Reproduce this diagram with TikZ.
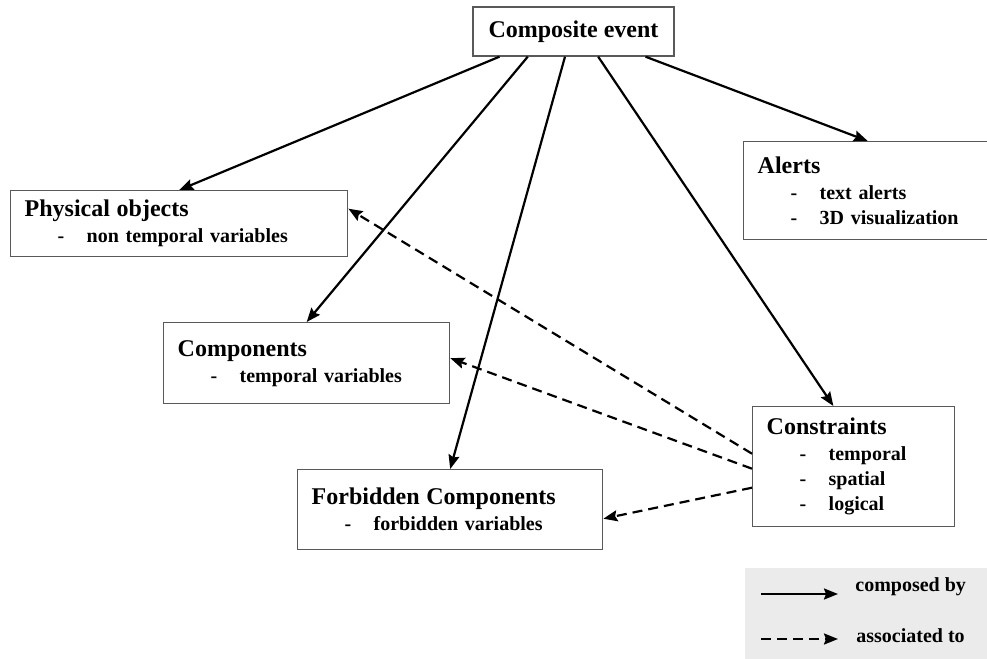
\documentclass[tikz,border=0pt]{standalone}
\usepackage{fontspec}
\setmainfont{Liberation Serif}
\usetikzlibrary{arrows.meta, positioning, calc}

\newcommand{\boxhead}[1]{{\fontsize{12pt}{13pt}\selectfont #1}\\[0.5pt]}
\newcommand{\entry}[1]{\makebox[31pt][l]{\hspace*{16.5pt}-}#1}

\begin{document}
\begin{tikzpicture}[
        x=0.5pt, y=-0.5pt,
        main node/.style={draw=black!65, line width=0.7pt, fill=white, anchor=north west,
          align=left, inner xsep=7pt, inner ysep=2pt,
          font=\bfseries\fontsize{10pt}{12.5pt}\selectfont},
        every edge/.style={draw, -{Stealth[length=7pt,width=5.5pt,inset=1pt]}, line width=1.1pt},
        assoc/.style={dash pattern=on 5pt off 3pt},
        legend text/.style={anchor=west, inner sep=0pt,
          font=\bfseries\fontsize{10pt}{12pt}\selectfont}
      ]
      \useasboundingbox (0,0) rectangle (987,659);
      \fill[black!8] (745,568) rectangle (1000,680);

      % Nodes
      \node[main node, anchor=center, align=center, minimum width=100.5pt, minimum height=24.5pt,
        font=\bfseries\fontsize{12pt}{13pt}\selectfont] (CE) at (573.5,31.5) {Composite event};
      \node[main node, text width=154.5pt, minimum height=33pt] (PO) at (10,190)
        {\boxhead{Physical objects}\entry{non temporal variables}};
      \node[main node, text width=110pt, minimum height=49pt] (AL) at (743,141)
        {\boxhead{Alerts}\entry{text alerts}\\\entry{3D visualization}};
      \node[main node, text width=129pt, minimum height=40.5pt] (CO) at (163,322)
        {\boxhead{Components}\entry{temporal variables}};
      \node[main node, text width=87pt, minimum height=60pt] (CS) at (752,406)
        {\boxhead{Constraints}\entry{temporal}\\\entry{spatial}\\\entry{logical}};
      \node[main node, text width=138.5pt, minimum height=40pt] (FC) at (297,469)
        {\boxhead{Forbidden Components}\entry{forbidden variables}};

      % Edges: composed by
      \draw ($(CE.south west)!0.134!(CE.south east)$) edge (PO.north);
      \draw ($(CE.south west)!0.274!(CE.south east)$) edge (CO.north);
      \draw ($(CE.south west)!0.458!(CE.south east)$) edge (FC.north);
      \draw ($(CE.south west)!0.622!(CE.south east)$) edge ($(CS.north west)!0.4!(CS.north east)$);
      \draw ($(CE.south west)!0.856!(CE.south east)$) edge (AL.north);

      % Edges: associated to
      \draw ([yshift=6.5pt]CS.west) edge[assoc] ([yshift=7.5pt]PO.east);
      \draw ([yshift=-1pt]CS.west) edge[assoc] ([yshift=2.5pt]CO.east);
      \draw ([yshift=-10.5pt]CS.west) edge[assoc] ([yshift=-4.5pt]FC.east);

      % Legend
      \coordinate (L1a) at (761,594);
      \coordinate (L1b) at (838,594);
      \coordinate (L2a) at (761,639);
      \coordinate (L2b) at (838,639);
      \draw (L1a) edge (L1b);
      \draw (L2a) edge[assoc] (L2b);
      \node[legend text] (T1) at (855,587) {composed by};
      \node[legend text] (T2) at (856,636) {associated to};
    \end{tikzpicture}
\end{document}
